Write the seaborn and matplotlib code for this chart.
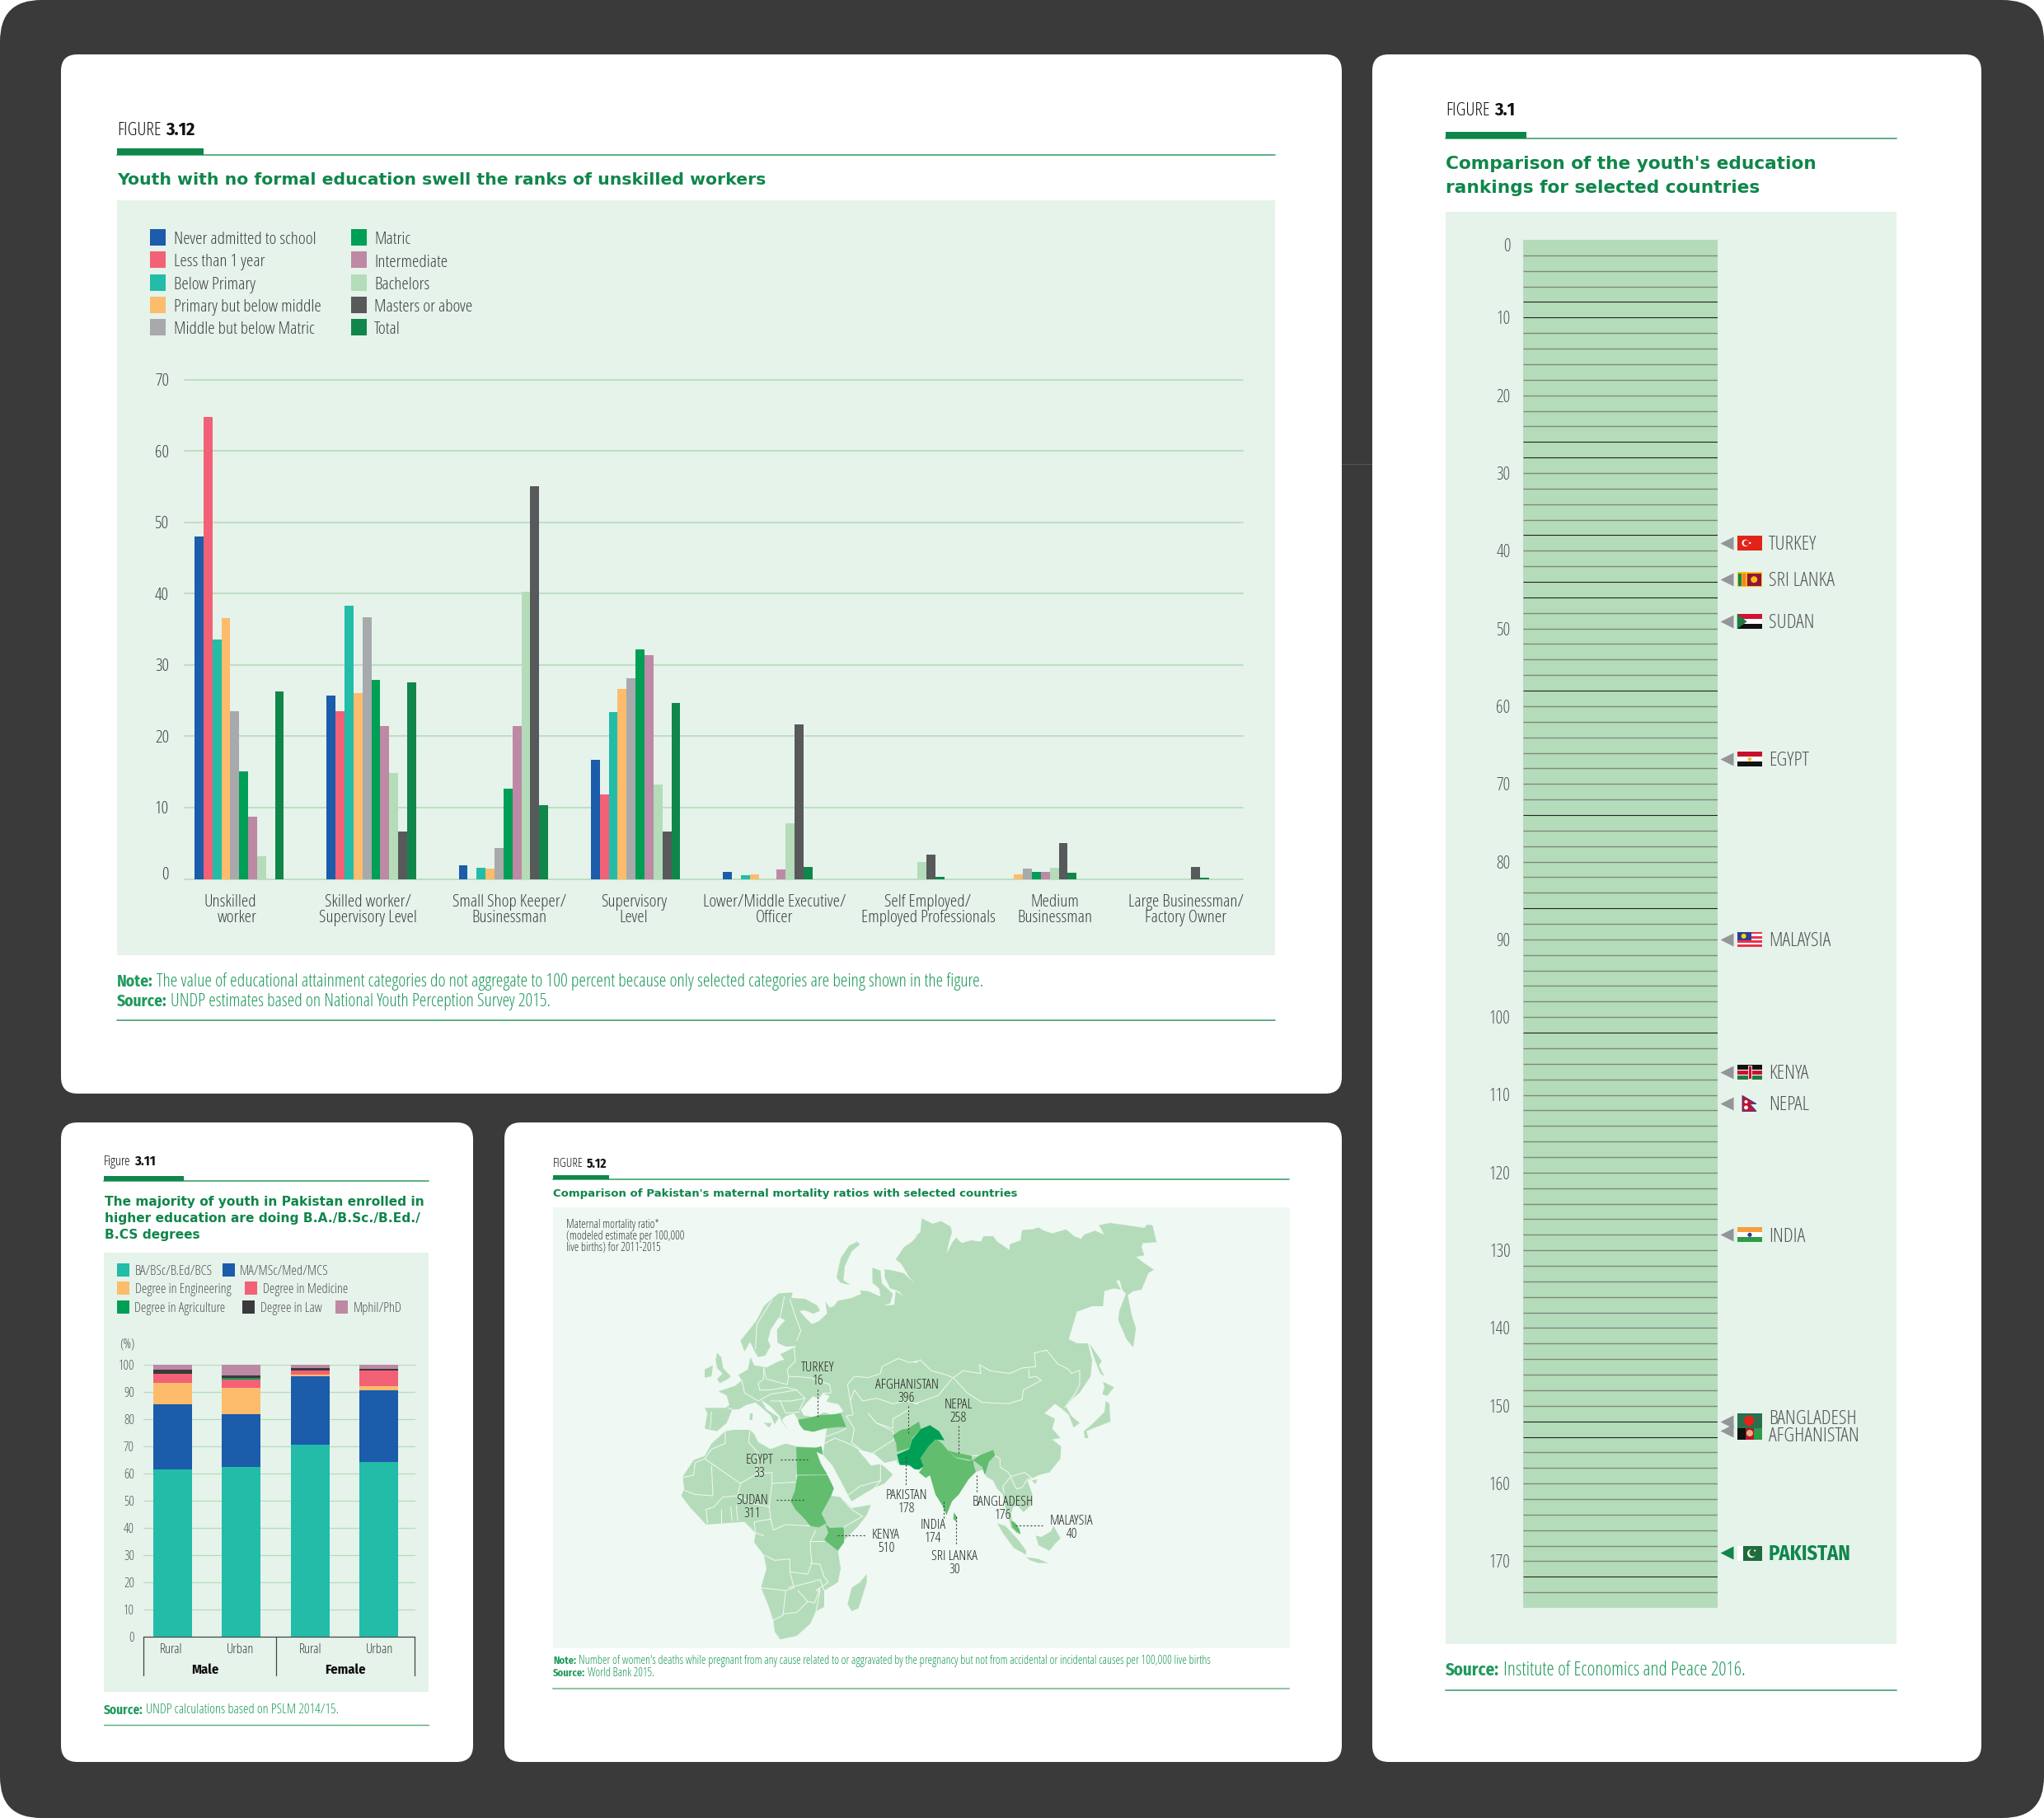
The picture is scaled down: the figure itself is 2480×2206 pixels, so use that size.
"""
Four report figures on one dark sheet: occupation by education, degree shares,
maternal mortality map and youth education rankings.
"""

import pandas as pd
import matplotlib.pyplot as plt
import seaborn as sns
from matplotlib.patches import FancyBboxPatch, Polygon, Rectangle, Circle

W_PX, H_PX = 2480, 2206

WIDE = dict(family="DejaVu Sans", stretch="normal", fontweight="bold")
BOLD = dict(family=["Fira Sans Condensed", "Open Sans"], fontweight="bold")

GREEN_DARK = "#10864b"
GREEN_TEXT = "#1f9a5c"
GREEN_RULE = "#4fa97a"
PALE_GREEN = "#b5dcba"
PLOT_BG = "#e5f3ea"
TEXT_GREY = "#3f4042"

# ---- Figure 3.12 data
occupations = [
    "Unskilled\nworker", "Skilled worker/\nSupervisory Level", "Small Shop Keeper/\nBusinessman",
    "Supervisory\nLevel", "Lower/Middle Executive/\nOfficer", "Self Employed/\nEmployed Professionals",
    "Medium\nBusinessman", "Large Businessman/\nFactory Owner",
]
education_levels = [
    "Never admitted to school", "Less than 1 year", "Below Primary", "Primary but below middle",
    "Middle but below Matric", "Matric", "Intermediate", "Bachelors", "Masters or above", "Total",
]
education_colors = [
    "#1b5cab", "#f26175", "#22bca9", "#fdbc6b", "#a7a9ac",
    "#009f56", "#bd89a5", "#b4dcb9", "#58595b", "#10864b",
]
never_admitted = [48.0, 25.7, 1.9, 16.7, 0.95, 0, 0, 0]
less_than_year = [64.7, 23.5, 0, 11.8, 0, 0, 0, 0]
below_primary = [33.5, 38.3, 1.6, 23.4, 0.55, 0, 0, 0]
primary_below_middle = [36.55, 26.0, 1.5, 26.6, 0.6, 0, 0.6, 0]
middle_below_matric = [23.5, 36.7, 4.3, 28.1, 0, 0, 1.46, 0]
matric = [15.07, 27.9, 12.6, 32.2, 0, 0, 0.97, 0]
intermediate = [8.76, 21.4, 21.4, 31.4, 1.3, 0, 0.93, 0]
bachelors = [3.15, 14.8, 40.3, 13.2, 7.8, 2.34, 1.55, 0]
masters = [0, 6.66, 55.0, 6.66, 21.7, 3.36, 5.0, 1.7]
total_share = [26.3, 27.5, 10.3, 24.7, 1.65, 0.3, 0.9, 0.13]
occupation_series = [
    never_admitted, less_than_year, below_primary, primary_below_middle, middle_below_matric,
    matric, intermediate, bachelors, masters, total_share,
]

# ---- Figure 3.11 data
degree_groups = ["Male Rural", "Male Urban", "Female Rural", "Female Urban"]
degree_names = [
    "BA/BSc/B.Ed/BCS", "MA/MSc/Med/MCS", "Degree in Engineering", "Degree in Medicine",
    "Degree in Agriculture", "Degree in Law", "Mphil/PhD",
]
degree_colors = ["#22bca9", "#1b5cab", "#fdbc6b", "#f26175", "#009f56", "#3a3a3c", "#bd89a5"]
ba_bsc = [61.6, 62.4, 70.5, 64.3]
ma_msc = [23.9, 19.5, 25.3, 26.2]
engineering = [7.9, 9.7, 0.6, 1.5]
medicine = [3.3, 3.0, 1.5, 6.0]
agriculture = [0.1, 0.7, 0.0, 0.0]
law = [1.3, 0.7, 1.0, 0.4]
mphil = [1.9, 4.0, 1.1, 1.6]
degree_series = [ba_bsc, ma_msc, engineering, medicine, agriculture, law, mphil]

# ---- Figure 3.1 data
rank_axis_end = 176
rank_rules = list(range(2, 175, 2))
rank_rules_dark = [8, 10, 26, 28, 38, 44, 46, 58, 74, 86, 102, 152, 154, 172]
country_names = [
    "TURKEY", "SRI LANKA", "SUDAN", "EGYPT", "MALAYSIA", "KENYA",
    "NEPAL", "INDIA", "BANGLADESH", "AFGHANISTAN", "PAKISTAN",
]
country_ranks = [38.9, 43.6, 49.0, 66.7, 89.9, 107.0, 111.0, 127.9, 151.9, 153.1, 168.8]

# ---- Figure 5.12 data
mortality_labels = [
    "TURKEY\n16", "AFGHANISTAN\n396", "NEPAL\n258", "EGYPT\n33", "SUDAN\n311", "PAKISTAN\n178",
    "BANGLADESH\n176", "MALAYSIA\n40", "KENYA\n510", "INDIA\n174", "SRI LANKA\n30",
]


def crop(ox, oy, pts):
    return [(ox + x / 3, oy + y / 3) for x, y in pts]


def cw(pts):
    return crop(820, 1470, pts)


def ce(pts):
    return crop(1110, 1470, pts)


def cs(pts):
    return crop(820, 1700, pts)


def ca(pts):
    return crop(1060, 1680, pts)


eurasia = (
    cw([(345, 322), (375, 298), (425, 295), (420, 315), (470, 318), (515, 342), (525, 362), (500, 372),
        (470, 360), (450, 362), (470, 385), (495, 410), (520, 400), (550, 372), (545, 328), (560, 350),
        (575, 345), (590, 325), (640, 315), (675, 300), (670, 288), (700, 290), (745, 310), (740, 280),
        (716, 260), (715, 205), (745, 215), (750, 262), (790, 300), (780, 335), (755, 342), (795, 340),
        (800, 290), (830, 310), (810, 290), (780, 280), (760, 240), (760, 210), (790, 215), (830, 225),
        (870, 262), (850, 240), (820, 190), (800, 175), (830, 130), (860, 110), (880, 88)])
    + ce([(0, 92), (20, 75), (25, 25), (45, 35), (65, 45), (95, 35), (130, 55), (135, 75), (125, 110),
          (115, 155), (135, 115), (150, 95), (170, 115), (205, 105), (240, 110), (250, 90), (285, 90),
          (300, 110), (345, 140), (345, 120), (385, 105), (390, 68), (430, 65), (450, 58), (470, 70),
          (500, 80), (550, 65), (580, 90), (605, 100), (615, 85), (655, 70), (690, 85), (670, 50),
          (710, 42), (770, 50), (835, 60), (845, 48), (865, 50), (880, 112), (830, 115), (825, 130),
          (835, 160), (805, 165), (830, 185), (870, 212), (850, 225), (825, 285), (795, 290), (775, 305),
          (790, 380), (805, 425), (795, 495), (770, 465), (740, 395), (745, 360), (768, 300), (755, 285),
          (745, 250), (733, 252), (750, 285), (725, 280), (690, 290), (685, 345), (645, 345), (590, 365),
          (560, 465), (590, 480), (630, 480), (645, 540), (640, 600), (600, 660), (575, 680), (550, 710),
          (570, 745), (600, 770), (578, 787), (560, 740), (535, 718), (510, 700), (472, 735), (510, 755),
          (500, 790), (530, 825), (500, 830), (532, 855), (530, 900)])
    + ca([(640, 320), (600, 330), (580, 340), (560, 350), (578, 400), (572, 440), (545, 465), (525, 440),
          (508, 445), (500, 470), (505, 500), (530, 530), (535, 545), (520, 540), (500, 520), (490, 480),
          (480, 450), (470, 400), (450, 380), (435, 350), (410, 335), (405, 320), (395, 310), (370, 320),
          (350, 340), (310, 400), (285, 425), (265, 475), (250, 440), (225, 400), (205, 330), (190, 340),
          (165, 320), (180, 300), (140, 300), (100, 292), (85, 285)])
    + cs([(805, 215), (760, 225), (720, 190), (670, 178), (665, 182), (690, 210), (710, 235), (745, 230),
          (760, 240), (790, 268), (760, 300), (715, 320), (640, 365), (628, 345), (600, 290), (570, 235),
          (535, 195), (545, 130), (550, 100), (500, 112), (465, 105), (450, 85), (445, 68)])
    + cw([(430, 735), (400, 745), (385, 760), (410, 795), (385, 765), (378, 745), (345, 710), (310, 685),
          (330, 720), (375, 750), (360, 775), (345, 742), (310, 712), (290, 695), (255, 705), (230, 720),
          (205, 722), (185, 770), (150, 800), (125, 795), (105, 790), (115, 735), (105, 715), (180, 715),
          (195, 705), (185, 670), (155, 655), (215, 635), (240, 615), (228, 595), (262, 575), (272, 530),
          (285, 560), (330, 568), (375, 545), (395, 540), (380, 520), (410, 505), (440, 490), (400, 492),
          (370, 478), (368, 430), (398, 395), (375, 385), (345, 430), (335, 470), (345, 490), (325, 525),
          (300, 530), (290, 515), (270, 475), (250, 510), (235, 470), (260, 440), (295, 395), (320, 345)])
)
africa = cs([
    (270, 105), (285, 120), (300, 150), (345, 175), (385, 160), (400, 155), (440, 165), (510, 170), (530, 165),
    (535, 195), (512, 185), (545, 265), (560, 285), (575, 318), (565, 345), (600, 350), (625, 375), (640, 390),
    (710, 378), (695, 415), (660, 460), (610, 510), (590, 545), (600, 610), (590, 660), (540, 690), (540, 750),
    (510, 765), (490, 810), (440, 855), (380, 868), (360, 840), (355, 800), (335, 740), (310, 680), (330, 610),
    (320, 560), (285, 515), (290, 480), (250, 440), (180, 445), (110, 450), (50, 385), (20, 345), (30, 320),
    (25, 275), (65, 215), (105, 200), (130, 155), (180, 110), (210, 105),
])
pale_islands = [
    cs([(695, 630), (695, 660), (665, 755), (640, 765), (625, 740), (640, 680), (670, 660)]),  # Madagascar
    cw([(150, 515), (165, 530), (172, 570), (200, 600), (190, 610), (160, 625), (150, 610), (170, 590),
        (150, 570), (145, 540)]),  # Britain
    cw([(105, 575), (135, 560), (130, 600), (105, 605)]),
    cw([(660, 110), (670, 120), (640, 145), (615, 200), (610, 250), (635, 268), (600, 260), (585, 240),
        (600, 170), (630, 125)]),  # Novaya Zemlya
    cw([(270, 735), (280, 735), (278, 760), (268, 758)]),
    cw([(320, 770), (350, 770), (340, 787)]),
    ca([(450, 505), (480, 515), (530, 570), (555, 605), (555, 620), (510, 595), (470, 540)]),  # Sumatra
    ca([(555, 628), (600, 635), (635, 650), (600, 650), (570, 640)]),
    ca([(590, 550), (610, 555), (645, 535), (655, 515), (680, 560), (660, 580), (640, 605), (600, 585)]),
    ca([(575, 350), (595, 345), (590, 362)]),
    ce([(635, 480), (680, 545), (670, 560), (690, 600), (675, 590), (655, 540)]),  # Sakhalin
    ce([(685, 620), (725, 640), (700, 672), (682, 665), (690, 640)]),
    ce([(695, 690), (708, 700), (712, 765), (660, 785), (625, 800), (632, 825), (618, 825), (615, 800),
        (650, 770), (690, 730)]),
]
black_sea = cw([(455, 722), (480, 692), (500, 672), (520, 682), (535, 662), (560, 672), (548, 692), (592, 702),
                (610, 728), (575, 742), (540, 732), (500, 748), (465, 742)])
highlighted = [
    cs([(445, 68), (490, 60), (520, 52), (560, 50), (600, 45), (620, 95), (590, 95), (540, 100), (500, 112),
        (465, 105), (450, 85)]),  # Turkey
    cs([(438, 168), (510, 170), (530, 165), (535, 195), (512, 185), (525, 225), (552, 268), (440, 268)]),  # Egypt
    cs([(442, 272), (552, 270), (575, 318), (565, 345), (530, 410), (548, 445), (520, 460), (490, 455), (465, 425),
        (435, 395), (418, 365), (432, 330)]),  # Sudan
    cs([(545, 448), (560, 462), (610, 460), (612, 475), (612, 515), (590, 545), (540, 505), (555, 480)]),  # Kenya
    ca([(70, 185), (100, 165), (125, 160), (165, 135), (172, 162), (140, 195), (130, 232), (85, 245), (82, 215)]),
    ca([(228, 198), (250, 215), (270, 240), (300, 268), (345, 278), (362, 275), (365, 295), (372, 318), (345, 345),
        (310, 400), (285, 425), (265, 475), (250, 440), (225, 400), (205, 330), (190, 340), (165, 320), (182, 298),
        (170, 268), (200, 225)]),  # India
    ca([(270, 240), (300, 248), (357, 260), (357, 275), (300, 265)]),  # Nepal
    ca([(362, 275), (385, 258), (435, 238), (442, 258), (420, 280), (405, 330), (395, 300), (375, 285)]),
    ca([(292, 465), (305, 485), (300, 498), (290, 490)]),  # Sri Lanka
    ca([(500, 495), (515, 503), (530, 525), (535, 545), (520, 535), (505, 520)]),  # Malaysia
]
pakistan_shape = ca([
    (172, 162), (205, 148), (238, 170), (258, 203), (225, 200), (200, 225), (170, 268), (182, 298), (165, 310),
    (148, 308), (130, 293), (95, 293), (85, 255), (130, 235), (140, 200),
])
border_lines = [
    cw([(415, 320), (435, 380), (455, 435), (440, 470)]),
    cw([(350, 322), (320, 370), (295, 410), (290, 500)]),
    cw([(395, 310), (380, 385)]),
    cw([(430, 490), (435, 545), (405, 575), (410, 600)]),
    cw([(320, 570), (330, 610), (405, 630), (410, 600), (490, 605), (560, 630), (565, 660), (535, 662)]),
    cw([(240, 615), (250, 660), (300, 690), (345, 665), (440, 650), (470, 680), (450, 722)]),
    cw([(320, 570), (320, 610), (300, 625), (305, 650), (345, 650), (400, 640), (440, 650)]),
    cw([(190, 715), (215, 725)]),
    cw([(130, 730), (125, 790)]),
    cw([(345, 690), (420, 690), (470, 680)]),
    cw([(380, 690), (400, 735), (450, 730)]),
    cw([(625, 630), (650, 600), (700, 605), (745, 590), (750, 565), (810, 535), (850, 550), (880, 545)])
    + ce([(0, 550), (20, 540), (60, 580), (100, 590), (140, 605), (175, 580), (240, 590), (235, 558), (275, 580),
          (345, 590), (390, 570), (440, 565), (435, 515), (480, 505), (520, 555), (560, 575), (570, 590), (600, 578),
          (600, 630), (585, 660), (545, 715)]),
    ce([(140, 605), (190, 660), (245, 695), (340, 700), (390, 685), (395, 650), (460, 615), (440, 600), (415, 605),
        (415, 575)]),
    cw([(625, 630), (635, 690), (650, 650), (680, 690), (730, 680), (790, 700), (840, 690), (880, 700)])
    + ce([(0, 700), (85, 670), (135, 610)]),
    cw([(635, 690), (645, 740), (620, 745)]),
    cw([(700, 735), (730, 770), (790, 790), (790, 755), (850, 720)]),
    cw([(620, 745), (650, 790), (640, 840), (700, 890), (795, 830), (790, 800), (730, 770)]),
    cs([(545, 130), (600, 110), (620, 100)]),
    cs([(540, 155), (580, 135), (640, 160), (670, 178)]),
    cs([(625, 345), (670, 310), (745, 290)]),
    cs([(745, 230), (745, 290), (720, 320)]),
    ca([(357, 260), (385, 258)]),
    ca([(442, 258), (460, 270), (460, 300), (490, 320), (500, 335), (470, 370), (475, 395)]),
    ca([(500, 335), (550, 320), (575, 340), (560, 345), (540, 375), (520, 380), (500, 340)]),
    cs([(180, 110), (180, 155), (130, 175), (105, 210), (70, 225), (65, 270), (25, 278)]),
    cs([(105, 210), (235, 300), (295, 265), (350, 260), (350, 300), (440, 295)]),
    cs([(440, 168), (440, 295), (432, 330)]),
    cs([(270, 105), (265, 150), (300, 190), (295, 265)]),
    cs([(130, 235), (135, 345), (70, 340), (30, 325)]),
    cs([(235, 300), (225, 345), (170, 350), (140, 385), (110, 395), (115, 445)]),
    cs([(225, 345), (285, 375), (340, 385), (350, 300)]),
    cs([(340, 385), (345, 430), (355, 470), (400, 450), (490, 455)]),
    cs([(345, 430), (285, 440), (290, 480), (320, 490)]),
    cs([(165, 395), (165, 445)]),
    cs([(200, 385), (205, 435)]),
    cs([(220, 380), (225, 435)]),
    cs([(320, 560), (360, 580), (415, 575), (415, 620), (435, 625), (480, 630), (495, 590), (490, 540), (490, 510),
        (510, 470)]),
    cs([(490, 510), (540, 510)]),
    cs([(490, 590), (525, 595), (540, 640)]),
    cs([(310, 680), (400, 690), (430, 680), (415, 620)]),
    cs([(410, 680), (490, 660), (525, 650), (540, 690)]),
    cs([(540, 640), (555, 660), (510, 690), (525, 690), (510, 765)]),
    cs([(400, 690), (390, 780), (350, 800)]),
    cs([(445, 690), (480, 730), (505, 735), (525, 680)]),
    cs([(390, 775), (440, 770), (480, 730)]),
    cs([(600, 350), (640, 395), (680, 420), (610, 460)]),
]


def px_axes(fig, x0, y0, x1, y1):
    return fig.add_axes([x0 / W_PX, 1 - y1 / H_PX, (x1 - x0) / W_PX, (y1 - y0) / H_PX])


def card(page, x0, y0, x1, y1, color="white", r=20, z=1):
    page.add_patch(FancyBboxPatch((x0, y0), x1 - x0, y1 - y0, boxstyle=f"round,pad=0,rounding_size={r}",
                                  fc=color, ec="none", zorder=z))


def put(page, x, y, s, width=None, **kw):
    # width = target width in px, font size is scaled so the text matches it
    kw.setdefault("va", "center")
    kw.setdefault("zorder", 6)
    t = page.text(x, y + 2.2, s, **kw)
    if width is not None:
        rend = page.figure.canvas.get_renderer()
        t.set_fontsize(t.get_fontsize() * width / t.get_window_extent(rend).width)
    return t


def text_end(page, t):
    rend = page.figure.canvas.get_renderer()
    return page.transData.inverted().transform(t.get_window_extent(rend).get_points())[1, 0]


def header(page, x0, x1, y_text, y_rule, bar_end, bar_h, fig_a, fig_b, size):
    a = put(page, x0, y_text, fig_a, fontsize=size, color="#111111")
    put(page, text_end(page, a) + size * 0.35, y_text, fig_b, fontsize=size, color="#111111", **BOLD)
    page.add_patch(Rectangle((x0, y_rule - bar_h), bar_end - x0, bar_h, fc=GREEN_DARK, ec="none", zorder=5))
    page.plot([x0, x1], [y_rule, y_rule], color=GREEN_RULE, lw=1.3, zorder=4)


def note_line(page, x0, x1, y, prefix, body, size):
    # bold prefix, then body stretched so the whole line ends at x1
    a = put(page, x0, y, prefix, fontsize=size, color=GREEN_TEXT, **BOLD)
    start = text_end(page, a) + size * 0.35
    put(page, start, y, body, width=x1 - start, fontsize=size, color=GREEN_TEXT)


def draw_flag(page, name, yc):
    x0, w, h = 2107.7, 30.5, 18.0
    top = yc - h / 2

    def bands(colors):
        for i, c in enumerate(colors):
            page.add_patch(Rectangle((x0, top + i * h / len(colors)), w, h / len(colors), fc=c, ec="none", zorder=6))

    def dot(x, y, r, c):
        page.add_patch(Circle((x, y), r, fc=c, ec="none", zorder=7))

    if name == "TURKEY":
        bands(["#e2231a"])
        dot(x0 + 10, yc, 4.2, "white")
        dot(x0 + 11.2, yc, 3.3, "#e2231a")
        dot(x0 + 15.5, yc, 1.2, "white")
    elif name == "SRI LANKA":
        bands(["#fdb913"])
        page.add_patch(Rectangle((x0 + 1.5, top + 1.5), 4, h - 3, fc="#0a8a4e", ec="none", zorder=7))
        page.add_patch(Rectangle((x0 + 6, top + 1.5), 4, h - 3, fc="#f58220", ec="none", zorder=7))
        page.add_patch(Rectangle((x0 + 12, top + 1.5), 17, h - 3, fc="#8d153a", ec="none", zorder=7))
        dot(x0 + 20.5, yc, 4, "#fdb913")
    elif name == "SUDAN":
        bands(["#d21034", "white", "#111111"])
        page.add_patch(Polygon([(x0, top), (x0 + 12, yc), (x0, top + h)], fc="#1f7a3e", ec="none", zorder=7))
    elif name == "EGYPT":
        bands(["#c8102e", "white", "#111111"])
        dot(x0 + w / 2, yc, 2.3, "#fdb913")
    elif name == "MALAYSIA":
        bands(["#e8344b", "white", "#e8344b", "white", "#e8344b", "white", "#e8344b"])
        page.add_patch(Rectangle((x0, top), w * 0.58, h * 0.58, fc="#2e3f8f", ec="none", zorder=7))
        dot(x0 + 8, top + 5, 3, "#fdd116")
    elif name == "KENYA":
        bands(["#111111", "#c8102e", "#1f7a3e"])
        page.plot([x0, x0 + w], [top + h / 3] * 2, color="white", lw=0.8, zorder=7)
        page.plot([x0, x0 + w], [top + 2 * h / 3] * 2, color="white", lw=0.8, zorder=7)
        page.add_patch(Rectangle((x0 + 13, top + 1), 4.5, h - 2, fc="#c8102e", ec="white", lw=0.6, zorder=8))
    elif name == "NEPAL":
        nx = 2114
        page.add_patch(Polygon([(nx, yc - 9.5), (nx + 17, yc + 0.5), (nx + 9, yc + 0.5), (nx + 17, yc + 9.5),
                                (nx, yc + 9.5)], fc="#c8102e", ec="#2e3f8f", lw=0.7, zorder=6))
        dot(nx + 4.5, yc - 2, 2, "white")
        dot(nx + 4.5, yc + 5, 2.4, "white")
    elif name == "INDIA":
        bands(["#f99d3e", "white", "#2f9a48"])
        dot(x0 + w / 2, yc, 2.6, "#2e3f8f")
    elif name == "BANGLADESH":
        page.add_patch(Rectangle((x0, 1715), w, 17.7, fc="#2a6f4e", ec="none", zorder=6))
        dot(x0 + 14.5, 1724, 6.2, "#e2231a")
    elif name == "AFGHANISTAN":
        for i, c in enumerate(["#111111", "#b5162b", "#2f9a48"]):
            page.add_patch(Rectangle((x0 + i * w / 3, 1732.7), w / 3, 14, fc=c, ec="none", zorder=6))
        dot(x0 + w / 2, 1739, 4, "#e8b07a")
    elif name == "PAKISTAN":
        page.add_patch(Rectangle((x0, 1876), w, 18, fc="white", ec="none", zorder=6))
        page.add_patch(Rectangle((x0 + 7.3, 1876), w - 7.3, 18, fc="#1f6b3a", ec="none", zorder=6))
        dot(x0 + 17.5, 1885, 5.2, "white")
        dot(x0 + 19.3, 1884, 4.6, "#1f6b3a")
        dot(x0 + 21.5, 1881.5, 1.1, "white")


def draw_fig_312(fig, page):
    card(page, 74, 66, 1628, 1327)
    header(page, 142, 1547, 156, 188, 246.6, 8.5, "FIGURE", "3.12", 16)
    put(page, 142, 216, "Youth with no formal education swell the ranks of unskilled workers", width=777,
        color=GREEN_DARK, fontsize=13, **WIDE)
    page.add_patch(Rectangle((141.5, 243), 1405.5, 916, fc=PLOT_BG, ec="none", zorder=2))

    # legend, two columns of five
    for i, (name, color) in enumerate(zip(education_levels, education_colors)):
        col, row = divmod(i, 5)
        y = 288 + row * 27.3
        sx = 182 + col * 244
        page.add_patch(Rectangle((sx, y - 10), 19, 20, fc=color, ec="none", zorder=5))
        put(page, sx + 29 - col, y + 1, name, fontsize=15.4, color=TEXT_GREY)

    ax = px_axes(fig, 224, 460.5, 1507.6, 1066.5)
    df = pd.DataFrame({"occupation": occupations})
    for name, values in zip(education_levels, occupation_series):
        df[name] = values
    long_df = df.melt(id_vars="occupation", var_name="level", value_name="share")
    sns.barplot(data=long_df, x="occupation", y="share", hue="level", order=occupations,
                hue_order=education_levels, palette=education_colors, width=0.677, gap=0,
                saturation=1, linewidth=0, legend=False, ax=ax)
    ax.set_xlim(-0.413, 7.594)
    ax.set_ylim(0, 70)
    ax.patch.set_visible(False)
    ax.set_xlabel("")
    ax.set_ylabel("")
    ax.set_xticks([])
    ax.set_yticks(range(0, 71, 10))
    ax.set_yticklabels(["", "10", "20", "30", "40", "50", "60", "70"], fontsize=15.4, color=TEXT_GREY)
    ax.tick_params(axis="y", length=0, pad=13.7)
    ax.set_axisbelow(True)
    ax.yaxis.grid(True, color=PALE_GREEN, lw=1.2)
    for line in ax.get_ygridlines():
        line.set_clip_on(False)
    sns.despine(ax=ax, left=True, bottom=True)
    put(page, 205, 1060, "0", ha="right", fontsize=15.4, color=TEXT_GREY)

    label_x = [311.6, 446.4, 618, 769, 940, 1126, 1279.5, 1439]
    for i, (name, x) in enumerate(zip(occupations, label_x)):
        put(page, x, 1102.5, name, ha="right" if i == 0 else "center", ma="right" if i == 0 else "center",
            fontsize=15.4, color=TEXT_GREY, linespacing=0.93)

    note_line(page, 142, 1197, 1189, "Note:", "The value of educational attainment categories do not aggregate "
              "to 100 percent because only selected categories are being shown in the figure.", 14)
    note_line(page, 142, 669, 1213, "Source:", "UNDP estimates based on National Youth Perception Survey 2015.", 14)
    page.plot([142, 1547], [1238, 1238], color=GREEN_RULE, lw=1.3, zorder=4)


def draw_fig_311(fig, page):
    card(page, 74, 1362, 574, 2138)
    header(page, 126, 520, 1407.5, 1433, 223, 6, "Figure", "3.11", 12)
    title = ["The majority of youth in Pakistan enrolled in", "higher education are doing B.A./B.Sc./B.Ed./",
             "B.CS degrees"]
    t = put(page, 126.7, 1456, title[0], width=386, color=GREEN_DARK, fontsize=9, **WIDE)
    for line, y in zip(title[1:], [1476.4, 1496.6]):
        put(page, 126.7, y, line, color=GREEN_DARK, fontsize=t.get_fontsize(), **WIDE)
    page.add_patch(Rectangle((126, 1520), 394, 532.6, fc=PLOT_BG, ec="none", zorder=2))

    swatch_x = [142.3, 270, 142.3, 296.7, 142.3, 293.7, 406.7]
    swatch_y = [1540.7, 1540.7, 1563, 1563, 1585.7, 1585.7, 1585.7]
    text_x = [163.3, 290.7, 164, 319, 163.3, 316.3, 428.3]
    for name, color, sx, sy, tx in zip(degree_names, degree_colors, swatch_x, swatch_y, text_x):
        page.add_patch(Rectangle((sx, sy - 7.8), 15, 15.6, fc=color, ec="none", zorder=5))
        put(page, tx, sy, name, fontsize=11.9, color="#555557")

    ax = px_axes(fig, 174, 1656, 504, 1986)
    # tallest stack first, each shorter cumulative bar paints over the one before
    running = [sum(col) for col in zip(*degree_series)]
    for values, color in zip(degree_series[::-1], degree_colors[::-1]):
        sns.barplot(x=degree_groups, y=running, order=degree_groups, color=color, saturation=1,
                    width=0.563, linewidth=0, ax=ax)
        running = [r - v for r, v in zip(running, values)]
    ax.set_xlim(-0.4216, 3.53)
    ax.set_ylim(0, 100)
    ax.patch.set_visible(False)
    ax.set_xticks([])
    ax.set_yticks(range(0, 101, 10))
    ax.tick_params(axis="y", length=0, pad=8, labelsize=11.6, labelcolor="#555557")
    ax.set_axisbelow(True)
    ax.yaxis.grid(True, color=PALE_GREEN, lw=0.9)
    sns.despine(ax=ax, left=True, bottom=True)
    put(page, 154, 1629, "(%)", ha="center", fontsize=11.6, color="#555557")

    page.plot([173.7, 503], [1986, 1986], color="#444444", lw=0.9, zorder=5)
    for x in [173.7, 335, 503]:
        page.plot([x, x], [1986, 2033], color="#444444", lw=0.9, zorder=5)
    for x, s in zip([207.7, 291.7, 377, 460], ["Rural", "Urban", "Rural", "Urban"]):
        put(page, x, 2000, s, ha="center", fontsize=12, color="#3f4042")
    for x, s in zip([249, 419], ["Male", "Female"]):
        put(page, x, 2024, s, ha="center", fontsize=12, color="#111111", **BOLD)

    note_line(page, 126, 413, 2073, "Source:", "UNDP calculations based on PSLM 2014/15.", 11)
    page.plot([126, 520], [2092.6, 2092.6], color=GREEN_RULE, lw=1, zorder=4)


def draw_fig_512(fig, page):
    card(page, 612, 1362, 1628, 2138)
    header(page, 671, 1564, 1410, 1431, 739, 5, "FIGURE", "5.12", 11)
    put(page, 671, 1446, "Comparison of Pakistan's maternal mortality ratios with selected countries", width=561,
        color=GREEN_DARK, fontsize=9, **WIDE)
    page.add_patch(Rectangle((671, 1465), 893.5, 534.6, fc="#eff8f2", ec="none", zorder=2))

    page.add_patch(Polygon(eurasia, fc=PALE_GREEN, ec="none", zorder=3))
    page.add_patch(Polygon(africa, fc=PALE_GREEN, ec="none", zorder=3))
    for shape in pale_islands:
        page.add_patch(Polygon(shape, fc=PALE_GREEN, ec="none", zorder=3))
    page.add_patch(Polygon(black_sea, fc="#eff8f2", ec="none", zorder=3.1))
    for line in border_lines:
        page.plot(*zip(*line), color="#f2f9f4", lw=0.7, zorder=3.2)
    for shape in highlighted:
        page.add_patch(Polygon(shape, fc="#62bd6f", ec="none", zorder=3.3))
    page.add_patch(Polygon(pakistan_shape, fc="#009f56", ec="none", zorder=3.4))

    label_xy = [(992.4, 1666), (1100, 1687), (1163, 1711), (921.5, 1778), (912.4, 1827), (1099.7, 1820.5),
                (1216.7, 1829), (1300, 1852), (1075, 1869), (1131.8, 1857), (1158.5, 1895)]
    for s, (x, y) in zip(mortality_labels, label_xy):
        put(page, x, y, s, ha="center", ma="center", fontsize=12.2, color="#222222", linespacing=0.98)
    leaders = [((992.4, 992.4), (1686, 1719)), ((1101.5, 1101.5), (1706, 1739)), ((1163, 1163), (1730, 1764)),
               ((947, 980), (1770.6, 1770.6)), ((942, 976), (1820, 1820)), ((1099, 1099), (1768, 1802)),
               ((1184.5, 1184.5), (1790, 1811)), ((1232, 1265), (1851, 1851)), ((1015.5, 1050), (1863, 1863)),
               ((1144.5, 1144.5), (1822, 1844)), ((1159.7, 1159.7), (1840, 1875))]
    for xs, ys in leaders:
        page.plot(xs, ys, color="#444444", lw=0.8, ls=(0, (2, 2)), zorder=5)

    put(page, 687, 1498, "Maternal mortality ratio*\n(modeled estimate per 100,000\nlive births) for 2011-2015",
        fontsize=10.2, color="#3f4042", linespacing=0.92)
    note_line(page, 671, 1482, 2013, "Note:", "Number of women's deaths while pregnant from any cause related to or "
              "aggravated by the pregnancy but not from accidental or incidental causes per 100,000 live births", 9)
    note_line(page, 671, 795, 2028, "Source:", "World Bank 2015.", 9)
    page.plot([671, 1564], [2049, 2049], color="#8cc6a5", lw=1.5, zorder=4)


def draw_fig_31(fig, page):
    card(page, 1665, 66, 2404, 2138)
    header(page, 1754, 2301, 132, 168, 1852, 8.5, "FIGURE", "3.1", 16)
    t = put(page, 1754, 197, "Comparison of the youth's education", width=447, color=GREEN_DARK, fontsize=13, **WIDE)
    put(page, 1754, 226, "rankings for selected countries", color=GREEN_DARK, fontsize=t.get_fontsize(), **WIDE)
    page.add_patch(Rectangle((1753.7, 257), 547.5, 1738, fc=PLOT_BG, ec="none", zorder=2))

    rank_top, rank_bottom = 291, 1951
    per_rank = (rank_bottom - rank_top) / rank_axis_end

    ax = px_axes(fig, 1848, rank_top, 2084, rank_bottom)
    sns.barplot(x=["rank"], y=[rank_axis_end], color=PALE_GREEN, saturation=1, width=1, linewidth=0, ax=ax)
    ax.set_xlim(-0.5, 0.5)
    ax.set_ylim(rank_axis_end, 0)
    ax.patch.set_visible(False)
    ax.set_xticks([])
    ax.set_xlabel("")
    ax.set_ylabel("")
    ticks = list(range(10, 171, 10))
    ax.set_yticks([0.6] + ticks)
    ax.set_yticklabels(["0"] + [str(v) for v in ticks], fontsize=15.5, color="#555557")
    ax.tick_params(axis="y", length=0, pad=11)
    sns.despine(ax=ax, left=True, bottom=True)
    light_rules = [r for r in rank_rules if r not in rank_rules_dark]
    ax.hlines(light_rules, -0.5, 0.5, color="#7d8a80", lw=1.0)
    ax.hlines(rank_rules_dark, -0.5, 0.5, color="#222222", lw=0.8)

    # pointers sit just right of the column
    pointer_colors = ["#939598"] * (len(country_names) - 1) + [GREEN_DARK]
    for rank, color in zip(country_ranks, pointer_colors):
        ax.plot([1.047], [rank + 0.1], marker="<", ms=11, mec="none", color=color, clip_on=False,
                transform=ax.get_yaxis_transform())

    label_nudge = {"BANGLADESH": -5, "AFGHANISTAN": 5}
    for name, rank in zip(country_names, country_ranks):
        y = rank_top + per_rank * rank
        draw_flag(page, name, y + 1)
        if name == "PAKISTAN":
            put(page, 2146, y + 1, name, fontsize=17.6, color=GREEN_DARK, **BOLD)
        else:
            put(page, 2146, y + 1 + label_nudge.get(name, 0), name, fontsize=17.6, color="#555557")

    note_line(page, 1754, 2117.7, 2024.4, "Source:", "Institute of Economics and Peace 2016.", 15)
    page.plot([1754, 2301], [2051, 2051], color=GREEN_RULE, lw=1.3, zorder=4)


def main():
    sns.set_style("white")
    # condensed light cut, the closest to the report's typeface
    plt.rcParams["font.family"] = "Open Sans"
    plt.rcParams["font.stretch"] = "condensed"
    plt.rcParams["font.weight"] = "light"

    fig = plt.figure(figsize=(W_PX / 100, H_PX / 100), dpi=100, facecolor="white")
    page = fig.add_axes([0, 0, 1, 1])
    page.set_xlim(0, W_PX)
    page.set_ylim(H_PX, 0)
    page.axis("off")
    card(page, 0, 0, W_PX, H_PX, color="#3a3a3a", r=50, z=0)
    page.plot([1628, 1665], [563, 563], color="#555555", lw=0.8, zorder=0.5)

    draw_fig_312(fig, page)
    draw_fig_311(fig, page)
    draw_fig_512(fig, page)
    draw_fig_31(fig, page)

    fig.savefig("out.png", dpi=100)


if __name__ == "__main__":
    main()
